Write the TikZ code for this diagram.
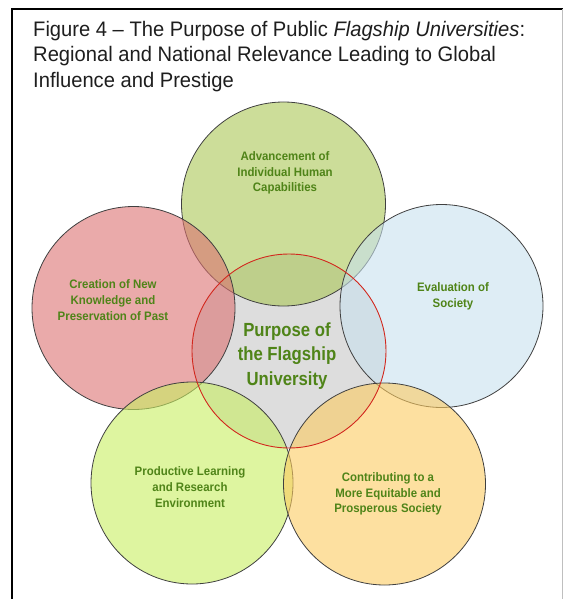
\documentclass[tikz,border=0pt]{standalone}
\usepackage{fontspec}
\setmainfont{Liberation Sans}
\newfontfamily\titlefont[FakeStretch=0.96]{Liberation Sans}
\newfontfamily\narrowbold[FakeStretch=0.93]{Liberation Sans Bold}
\newfontfamily\midbold[FakeStretch=0.88]{Liberation Sans Bold}
\definecolor{cTop}{RGB}{170,198,85}
\definecolor{cLeft}{RGB}{220,113,113}
\definecolor{cRight}{RGB}{200,225,238}
\definecolor{cBL}{RGB}{200,238,97}
\definecolor{cBR}{RGB}{252,203,97}
\definecolor{cMid}{RGB}{198,198,198}
\definecolor{labelgreen}{RGB}{79,132,24}
\definecolor{ringred}{RGB}{210,40,30}
\definecolor{titlegray}{RGB}{30,30,30}
\begin{document}
\begin{tikzpicture}[x=1pt,y=-1pt,
  bubble/.style={draw=black!75,line width=0.8pt,fill opacity=0.6,draw opacity=1},
  lbl/.style={text=labelgreen,align=center,inner sep=0pt,
    font=\narrowbold\fontsize{12.3}{15.8}\selectfont},
  midlbl/.style={text=labelgreen,align=center,inner sep=0pt,
    font=\midbold\fontsize{19}{24.5}\selectfont}]
\useasboundingbox (0,0) rectangle (563,599);
% circles
\fill[cMid,fill opacity=0.6] (289,351) circle (97);
\draw[bubble,fill=cTop] (283.5,204) circle (102);
\draw[bubble,fill=cLeft] (133.5,308) circle (101.5);
\draw[bubble,fill=cRight] (441.5,306) circle (101.5);
\draw[bubble,fill=cBL] (192,483) circle (101);
\draw[bubble,fill=cBR] (384.5,484) circle (101);
\draw[ringred,line width=0.9pt] (289,351) circle (97);
% labels
\node[lbl] (top) at (285,173) {Advancement of\\Individual Human\\Capabilities};
\node[lbl] (left) at (113,300) {Creation of New\\Knowledge and\\Preservation of Past};
\node[lbl] (right) at (453,296) {Evaluation of\\Society};
\node[lbl] (bl) at (190,487) {Productive Learning\\and Research\\Environment};
\node[lbl] (br) at (388,494) {Contributing to a\\More Equitable and\\Prosperous Society};
\node[midlbl] (mid) at (287,356) {Purpose of\\the Flagship\\University};
% title
\node[anchor=north west,align=left,inner sep=0pt,text=titlegray,
  font=\titlefont\fontsize{21}{25.5}\selectfont] (title) at (33,21)
  {Figure 4 – The Purpose of Public \textit{Flagship Universities}:\\
   Regional and National Relevance Leading to Global\\
   Influence and Prestige};
% frame
\draw[black,line width=1.8pt] (11.7,599) -- (11.7,9) -- (563,9);
\draw[black!25,line width=1pt] (562,9) -- (562,599);
\end{tikzpicture}
\end{document}
